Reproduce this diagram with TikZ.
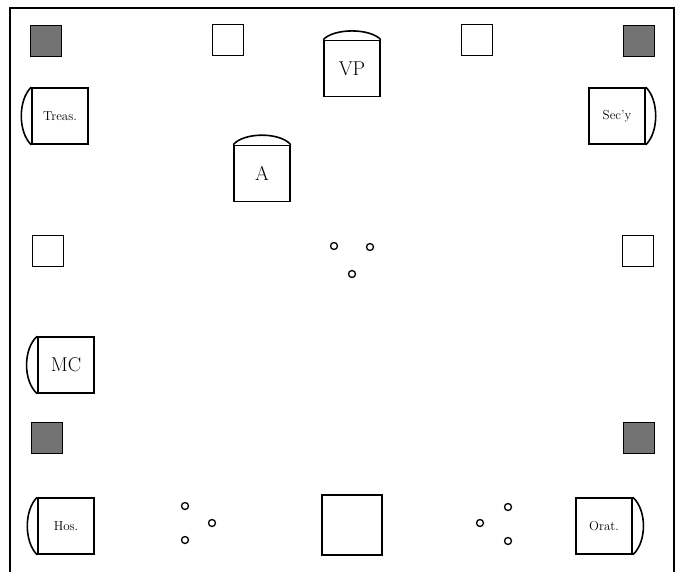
\documentclass[tikz,border=0pt]{standalone}
\begin{document}
\begin{tikzpicture}[x=1pt,y=-1pt,line width=1.6pt,
 gs/.style={draw,fill=black!55,minimum size=31pt,inner sep=0pt},
 ws/.style={draw,minimum size=31pt,inner sep=0pt},
 seat/.style={draw,minimum size=56pt,inner sep=0pt},
 dot/.style={circle,draw,line width=1.3pt,minimum size=7pt,inner sep=0pt}]
\useasboundingbox (0,0) rectangle (684,572);
\draw[line width=2.6pt] (10,572) -- (10,8) -- (674,8) -- (674,572);
\node[gs] (g1) at (46,41) {};
\node[gs] (g2) at (639,41) {};
\node[gs] (g3) at (47,438) {};
\node[gs] (g4) at (639,438) {};
\node[ws] (w1) at (228,40) {};
\node[ws] (w2) at (477,40) {};
\node[ws] (w3) at (48,251) {};
\node[ws] (w4) at (638,251) {};
\node[seat,font=\fontsize{20}{20}\selectfont] (vp) at (352,68.5) {VP};
\draw (vp.north west) .. controls (334,28) and (370,28) .. (vp.north east);
\node[seat,font=\fontsize{20}{20}\selectfont] (a) at (262,173.5) {A};
\draw (a.north west) .. controls (244,132) and (280,132) .. (a.north east);
\node[seat,font=\fontsize{13}{13}\selectfont] (tr) at (60,116) {Treas.};
\draw (tr.north west) .. controls (18,100) and (18,132) .. (tr.south west);
\node[seat,font=\fontsize{13}{13}\selectfont] (se) at (617,116) {Sec'y};
\draw (se.north east) .. controls (659,100) and (659,132) .. (se.south east);
\node[seat,font=\fontsize{20}{20}\selectfont] (mc) at (66,365) {MC};
\draw (mc.north west) .. controls (23,349) and (23,381) .. (mc.south west);
\node[seat,font=\fontsize{13}{13}\selectfont] (ho) at (66,526) {Hos.};
\draw (ho.north west) .. controls (24,510) and (24,542) .. (ho.south west);
\node[seat,font=\fontsize{13}{13}\selectfont] (or) at (604,526) {Orat.};
\draw (or.north east) .. controls (647,510) and (647,542) .. (or.south east);
\node[draw,minimum size=60pt,inner sep=0pt] (big) at (352,525) {};
\node[dot] (c1) at (334,246) {};
\node[dot] (c2) at (370,247) {};
\node[dot] (c3) at (352,274) {};
\node[dot] (c4) at (185,506) {};
\node[dot] (c5) at (212,523) {};
\node[dot] (c6) at (185,540) {};
\node[dot] (c7) at (508,507) {};
\node[dot] (c8) at (480,523) {};
\node[dot] (c9) at (508,541) {};
\end{tikzpicture}
\end{document}
